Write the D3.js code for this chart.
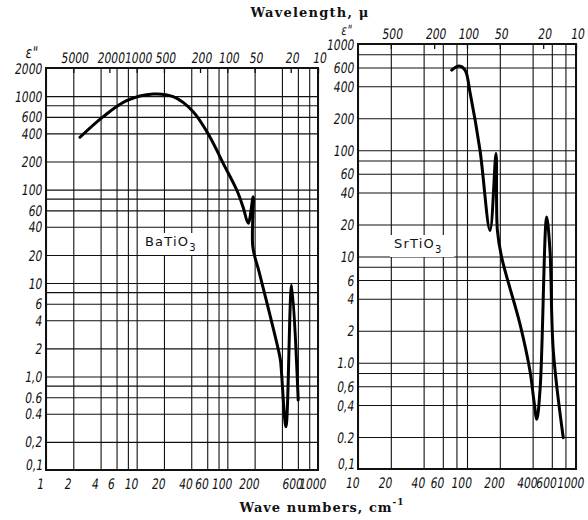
<!DOCTYPE html>
<html><head><meta charset="utf-8">
<script src="https://cdn.jsdelivr.net/npm/d3@7"></script>
<style>body{margin:0;background:#fff}</style>
</head><body><svg id="c" width="588" height="520" xmlns="http://www.w3.org/2000/svg"></svg>
<script>
// ---- data ----
const baWavenumber = [2.37, 4.28, 7.76, 15.2, 25.3, 42, 64, 90, 127, 150, 170, 193, 191, 226, 380, 390, 443, 512, 605];
const baEps        = [363, 603, 894, 1054, 986, 682, 368, 191, 99, 64, 43.6, 84, 24.4, 12.8, 1.62, 1.33, 0.29, 9.5, 0.56];
const srWavenumber = [72.4, 85, 96, 107, 131.6, 162.5, 184.5, 190, 208, 306, 378, 410, 437, 470, 538, 577, 619, 764];
const srEps        = [568, 620, 568, 343, 100, 17.6, 93, 17.6, 9.8, 2.32, 0.84, 0.45, 0.294, 0.6, 23.5, 11.4, 1.3, 0.197];

const leftXGrid = [1, 2, 4, 6, 8, 10, 20, 40, 60, 80, 100, 200, 400, 600, 800, 1000];
const leftXLabels = [1, 2, 4, 6, 10, 20, 40, 60, 100, 200, 600, 1000];
const rightXGrid = [10, 20, 40, 60, 80, 100, 200, 400, 600, 800, 1000];
const rightXLabels = [10, 20, 40, 60, 100, 200, 400, 600, 1000];

const leftYGrid = [2000, 1000, 800, 600, 400, 200, 100, 80, 60, 40, 20, 10, 8, 6, 4, 2, 1, 0.8, 0.6, 0.4, 0.2, 0.1];
const leftYValues = [2000, 1000, 600, 400, 200, 100, 60, 40, 20, 10, 6, 4, 2, 1, 0.6, 0.4, 0.2, 0.1];
const leftYTexts  = ["2000","1000","600","400","200","100","60","40","20","10","6","4","2","1,0","0.6","0.4","0,2","0,1"];
const rightYGrid = [1000, 800, 600, 400, 200, 100, 80, 60, 40, 20, 10, 8, 6, 4, 2, 1, 0.8, 0.6, 0.4, 0.2, 0.1];
const rightYValues = [1000, 600, 400, 200, 100, 60, 40, 20, 10, 6, 4, 2, 1, 0.6, 0.4, 0.2, 0.1];
const rightYTexts  = ["1000","600","400","200","100","60","40","20","10","6","4","2","1.0","0,6","0,4","0.2","0,1"];

const leftWavelengths = [5000, 2000, 1000, 500, 200, 100, 50, 20, 10];
const rightWavelengths = [500, 200, 100, 50, 20, 10];

// ---- drawing ----
const svg = d3.select("#c");
const tickFont = "'DejaVu Sans',sans-serif";
const narrow = "scale(0.74,1) skewX(-11)";

function styleText(sel, size) {
  sel.attr("font-family", tickFont).style("font-style", "normal")
    .attr("font-size", size).attr("fill", "#111").attr("transform", narrow);
}

function panel(o) {
  const x = d3.scaleLog().domain(o.xDomain).range(o.xRange);
  const y = d3.scaleLog().domain(o.yDomain).range(o.yRange);
  const xTop = d3.scaleLog().domain([1e4 / o.xDomain[0], 1e4 / o.xDomain[1]]).range(o.xRange);
  const w = o.xRange[1] - o.xRange[0], h = o.yRange[0] - o.yRange[1];
  const g = svg.append("g");

  const yMap = new Map(o.yValues.map((v, i) => [v, o.yTexts[i]]));
  const gy = g.append("g").attr("transform", `translate(${o.xRange[0]},0)`)
    .call(d3.axisLeft(y).tickValues(o.yGrid).tickSize(-w).tickPadding(5)
      .tickFormat(v => yMap.get(v) || ""));
  const xSet = new Set(o.xLabels);
  const gx = g.append("g").attr("transform", `translate(0,${o.yRange[0]})`)
    .call(d3.axisBottom(x).tickValues(o.xGrid).tickSize(-h).tickPadding(9)
      .tickFormat(v => xSet.has(v) ? String(v) : ""));
  const gt = g.append("g").attr("transform", `translate(0,${o.yRange[1]})`)
    .call(d3.axisTop(xTop).tickValues(o.wl).tickSize(-5).tickPadding(o.topPad)
      .tickFormat(d => String(d)));

  [gy, gx, gt].forEach(a => {
    a.select(".domain").remove();
    a.selectAll("line").attr("stroke", "#111").attr("stroke-width", 1.1);
    styleText(a.selectAll("text"), 14.5);
  });
  gx.selectAll("text").attr("dx", -5);
  gy.selectAll("text").attr("dy", d => d === 0.1 ? "-0.05em" : "0.35em");
  gt.selectAll("line").attr("stroke-width", 1.3);

  g.append("rect").attr("x", o.xRange[0]).attr("y", o.yRange[1]).attr("width", w).attr("height", h)
    .attr("fill", "none").attr("stroke", "#111").attr("stroke-width", 2);

  // epsilon'' label
  const e = g.append("g").attr("transform", `translate(${o.epsX},${o.epsY})`)
    .append("text").attr("text-anchor", "middle").text("ε\"");
  styleText(e, o.epsSize);

  // material label with white backing
  const lab = g.append("g").attr("transform", `translate(${o.labX},${o.labY})`);
  lab.append("rect").attr("x", -4).attr("y", -13).attr("width", 64).attr("height", 22).attr("fill", "#fff");
  const t = lab.append("text").attr("font-family", "'DejaVu Sans',sans-serif").attr("font-size", 13)
    .attr("letter-spacing", 1.2).attr("fill", "#111");
  t.append("tspan").text(o.name);
  t.append("tspan").attr("font-size", 10).attr("dy", 5).text("3");

  const line = d3.line().x((d, i) => x(o.wn[i])).y((d, i) => y(o.eps[i]))
    .curve(d3.curveCatmullRom.alpha(0.5));
  g.append("path").datum(o.wn).attr("d", line).attr("fill", "none")
    .attr("stroke", "#000").attr("stroke-width", 3).attr("stroke-linejoin", "round").attr("stroke-linecap", "round");
}

panel({
  xDomain: [1, 1000], xRange: [46, 318], yDomain: [0.1, 2000], yRange: [470, 68],
  xGrid: leftXGrid, xLabels: leftXLabels, yGrid: leftYGrid, yValues: leftYValues, yTexts: leftYTexts,
  wl: leftWavelengths, topPad: 5, epsX: 31, epsY: 58, epsSize: 16,
  labX: 145, labY: 246, name: "BaTiO", wn: baWavenumber, eps: baEps
});
panel({
  xDomain: [10, 1000], xRange: [358, 576], yDomain: [0.1, 1000], yRange: [469, 44],
  xGrid: rightXGrid, xLabels: rightXLabels, yGrid: rightYGrid, yValues: rightYValues, yTexts: rightYTexts,
  wl: rightWavelengths, topPad: 5, epsX: 346, epsY: 35, epsSize: 14,
  labX: 394, labY: 248, name: "SrTiO", wn: srWavenumber, eps: srEps
});

svg.append("text").attr("x", 310).attr("y", 17).attr("text-anchor", "middle")
  .attr("font-family", "'DejaVu Serif',serif").attr("font-size", 13).attr("font-weight", "bold")
  .attr("letter-spacing", 1.2).attr("fill", "#111").text("Wavelength, μ");
const bt = svg.append("text").attr("x", 322).attr("y", 512).attr("text-anchor", "middle")
  .attr("font-family", "'DejaVu Serif',serif").attr("font-size", 13).attr("font-weight", "bold")
  .attr("letter-spacing", 1.0).attr("fill", "#111");
bt.append("tspan").text("Wave numbers, cm");
bt.append("tspan").attr("dy", -7).attr("font-size", 9).text("-1");
</script></body></html>
